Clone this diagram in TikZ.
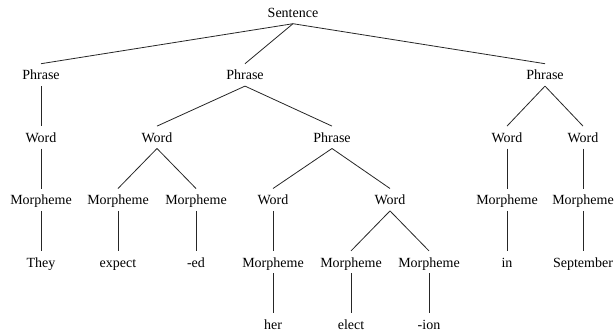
\documentclass[tikz,border=0pt]{standalone}
\usepackage{fontspec}
\setmainfont{Liberation Serif}
\usepackage{tikz}
\usetikzlibrary{positioning}
\tikzstyle{tn}=[%
      rectangle, draw=none, fill=none, font=\fontsize{14}{16}\selectfont,
      text height=12pt, text depth=2pt, minimum height=22pt, inner sep=1pt
]
\tikzstyle{br}=[%
      draw=black!85, line width=0.8pt
]

\begin{document}
\begin{tikzpicture}[x=1pt, y=-1pt, node distance=40pt]
    \useasboundingbox (0,0) rectangle (615,333);

    \node[tn] (s)  at (293,12.5) {Sentence};
    \node[tn] (p1) [below = of s, xshift=-252pt] {Phrase};
    \node[tn] (p2) [below = of s, xshift=-48pt]  {Phrase};
    \node[tn] (p3) [below = of s, xshift=252pt]  {Phrase};

    \node[tn] (w1) [below = of p1]               {Word};
    \node[tn] (w2) [below = of p2, xshift=-88pt] {Word};
    \node[tn] (p4) [below = of p2, xshift=87pt]  {Phrase};
    \node[tn] (w5) [below = of p3, xshift=-38pt] {Word};
    \node[tn] (w6) [below = of p3, xshift=38pt]  {Word};

    \node[tn] (m1) [below = of w1]               {Morpheme};
    \node[tn] (m2) [below = of w2, xshift=-39pt] {Morpheme};
    \node[tn] (m3) [below = of w2, xshift=39pt]  {Morpheme};
    \node[tn] (w3) [below = of p4, xshift=-59pt] {Word};
    \node[tn] (w4) [below = of p4, xshift=58pt]  {Word};
    \node[tn] (m7) [below = of w5]               {Morpheme};
    \node[tn] (m8) [below = of w6]               {Morpheme};

    \node[tn] (they) [below = of m1]               {They};
    \node[tn] (exp)  [below = of m2]               {expect};
    \node[tn] (ed)   [below = of m3]               {-ed};
    \node[tn] (m4)   [below = of w3]               {Morpheme};
    \node[tn] (m5)   [below = of w4, xshift=-39pt] {Morpheme};
    \node[tn] (m6)   [below = of w4, xshift=39pt]  {Morpheme};
    \node[tn] (in)   [below = of m7]               {in};
    \node[tn] (sep)  [below = of m8]               {September};

    \node[tn] (her)   [below = of m4] {her};
    \node[tn] (elect) [below = of m5] {elect};
    \node[tn] (ion)   [below = of m6] {-ion};

    \foreach \a/\b in {s/p1, s/p2, s/p3, p1/w1, p2/w2, p2/p4, p3/w5, p3/w6,
                       w1/m1, w2/m2, w2/m3, p4/w3, p4/w4, w5/m7, w6/m8,
                       m1/they, m2/exp, m3/ed, w3/m4, w4/m5, w4/m6, m7/in, m8/sep,
                       m4/her, m5/elect, m6/ion}
      \path[br] (\a.south) edge (\b.north);

\end{tikzpicture}
\end{document}
